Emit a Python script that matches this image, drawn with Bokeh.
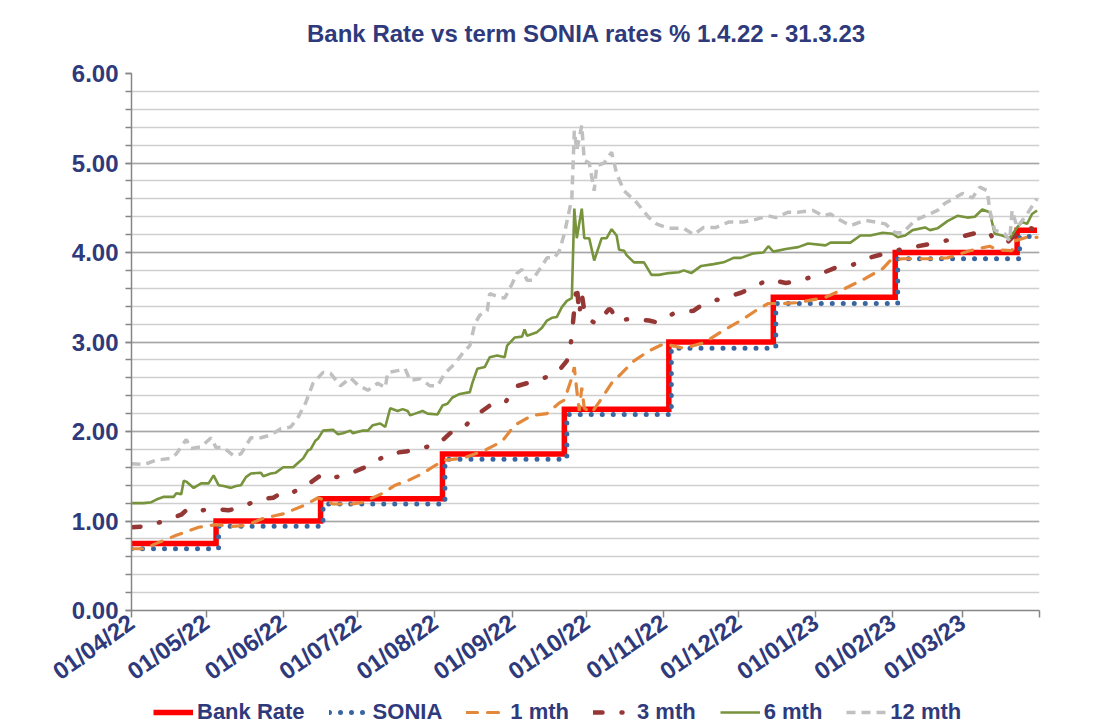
import datetime as dt
from bokeh.plotting import figure
from bokeh.layouts import column
from bokeh.core.properties import value
from bokeh.models import (FixedTicker, DatetimeTickFormatter, NumeralTickFormatter,
                          Legend, LegendItem, Range1d)
from bokeh.embed import file_html
from bokeh.resources import INLINE

# ---------------- data ----------------
bank_dates = ["2022-04-01", "2022-05-05", "2022-06-16", "2022-08-04", "2022-09-22",
              "2022-11-03", "2022-12-15", "2023-02-02", "2023-03-23", "2023-03-31"]
bank_rate = [0.75, 1.00, 1.25, 1.75, 2.25, 3.00, 3.50, 4.00, 4.25, 4.25]

sonia_dates = ["2022-04-01", "2022-05-06", "2022-06-17", "2022-08-05", "2022-09-23",
               "2022-11-04", "2022-12-16", "2023-02-03", "2023-03-24", "2023-03-31"]
sonia = [0.69, 0.94, 1.19, 1.69, 2.19, 2.93, 3.43, 3.93, 4.18, 4.18]

m1_dates = ["2022-04-01", "2022-04-06", "2022-04-11", "2022-04-19", "2022-04-28", "2022-05-05",
            "2022-05-11", "2022-05-17", "2022-05-24", "2022-06-01", "2022-06-09", "2022-06-15",
            "2022-06-21", "2022-06-29", "2022-07-03", "2022-07-11", "2022-07-16", "2022-07-21",
            "2022-07-27", "2022-08-01", "2022-08-05", "2022-08-12", "2022-08-21", "2022-08-28",
            "2022-09-02", "2022-09-09", "2022-09-15", "2022-09-20", "2022-09-22", "2022-09-25",
            "2022-09-26", "2022-09-27", "2022-09-28", "2022-09-29", "2022-09-30", "2022-10-03",
            "2022-10-07", "2022-10-11", "2022-10-15", "2022-10-20", "2022-10-26", "2022-11-01",
            "2022-11-09", "2022-11-17", "2022-11-25", "2022-12-02", "2022-12-09", "2022-12-13",
            "2022-12-19", "2022-12-25", "2023-01-05", "2023-01-13", "2023-01-21", "2023-01-28",
            "2023-01-31", "2023-02-05", "2023-02-11", "2023-02-17", "2023-02-23", "2023-03-04",
            "2023-03-12", "2023-03-15", "2023-03-21", "2023-03-22", "2023-03-27", "2023-03-31"]
m1 = [0.69, 0.69, 0.75, 0.84, 0.93, 0.96, 0.94, 0.95, 1.03, 1.08, 1.17, 1.26,
      1.19, 1.19, 1.21, 1.31, 1.40, 1.45, 1.53, 1.62, 1.68, 1.70, 1.79, 1.89,
      2.07, 2.18, 2.20, 2.32, 2.35, 2.60, 2.72, 2.46, 2.23, 2.49, 2.26, 2.21,
      2.37, 2.54, 2.65, 2.79, 2.90, 2.98, 2.93, 2.99, 3.13, 3.24, 3.37, 3.43,
      3.43, 3.44, 3.50, 3.60, 3.71, 3.82, 3.91, 3.93, 3.93, 3.93, 3.94, 4.02,
      4.07, 4.03, 4.02, 4.13, 4.17, 4.17]

m3_dates = ["2022-04-01", "2022-04-07", "2022-04-14", "2022-04-21", "2022-04-23", "2022-04-25",
            "2022-05-03", "2022-05-10", "2022-05-15", "2022-05-22", "2022-05-28", "2022-05-31",
            "2022-06-02", "2022-06-09", "2022-06-15", "2022-06-16", "2022-06-19", "2022-06-27",
            "2022-07-03", "2022-07-07", "2022-07-13", "2022-07-21", "2022-07-25", "2022-08-02",
            "2022-08-07", "2022-08-12", "2022-08-17", "2022-08-23", "2022-08-29", "2022-09-02",
            "2022-09-07", "2022-09-13", "2022-09-19", "2022-09-23", "2022-09-24", "2022-09-25",
            "2022-09-26", "2022-09-27", "2022-09-28", "2022-09-29", "2022-09-30", "2022-10-01",
            "2022-10-02", "2022-10-05", "2022-10-10", "2022-10-11", "2022-10-13", "2022-10-19",
            "2022-10-26", "2022-10-29", "2022-11-05", "2022-11-13", "2022-11-17", "2022-11-25",
            "2022-12-02", "2022-12-07", "2022-12-13", "2022-12-20", "2022-12-25", "2023-01-02",
            "2023-01-09", "2023-01-15", "2023-01-21", "2023-01-29", "2023-02-02", "2023-02-09",
            "2023-02-17", "2023-02-22", "2023-03-01", "2023-03-08", "2023-03-12", "2023-03-13",
            "2023-03-19", "2023-03-24", "2023-03-28", "2023-03-30"]
m3 = [0.93, 0.94, 1.00, 1.07, 1.12, 1.09, 1.14, 1.12, 1.15, 1.24, 1.26, 1.31,
      1.29, 1.37, 1.49, 1.51, 1.47, 1.52, 1.59, 1.64, 1.75, 1.78, 1.81, 1.85,
      1.98, 2.03, 2.17, 2.29, 2.31, 2.50, 2.54, 2.59, 2.65, 2.79, 2.85, 3.08,
      3.37, 3.65, 3.30, 3.54, 3.35, 3.26, 3.25, 3.20, 3.37, 3.35, 3.24, 3.26,
      3.24, 3.22, 3.32, 3.35, 3.43, 3.49, 3.55, 3.61, 3.70, 3.66, 3.68, 3.75,
      3.83, 3.85, 3.93, 3.99, 4.02, 4.06, 4.10, 4.13, 4.18, 4.23, 4.22, 4.17,
      4.11, 4.25, 4.28, 4.25]

m6_dates = ["2022-04-01", "2022-04-06", "2022-04-09", "2022-04-11", "2022-04-14", "2022-04-18",
            "2022-04-19", "2022-04-21", "2022-04-22", "2022-04-23", "2022-04-26", "2022-04-29",
            "2022-05-02", "2022-05-04", "2022-05-06", "2022-05-08", "2022-05-11", "2022-05-13",
            "2022-05-15", "2022-05-17", "2022-05-19", "2022-05-23", "2022-05-24", "2022-05-27",
            "2022-05-29", "2022-06-01", "2022-06-05", "2022-06-07", "2022-06-09", "2022-06-11",
            "2022-06-12", "2022-06-14", "2022-06-15", "2022-06-17", "2022-06-21", "2022-06-23",
            "2022-06-25", "2022-06-28", "2022-06-29", "2022-07-03", "2022-07-05", "2022-07-07",
            "2022-07-10", "2022-07-12", "2022-07-14", "2022-07-17", "2022-07-19", "2022-07-21",
            "2022-07-22", "2022-07-24", "2022-07-27", "2022-07-29", "2022-08-02", "2022-08-04",
            "2022-08-06", "2022-08-08", "2022-08-11", "2022-08-15", "2022-08-16", "2022-08-18",
            "2022-08-21", "2022-08-23", "2022-08-26", "2022-08-29", "2022-08-30", "2022-09-02",
            "2022-09-05", "2022-09-06", "2022-09-07", "2022-09-11", "2022-09-13", "2022-09-15",
            "2022-09-17", "2022-09-19", "2022-09-21", "2022-09-23", "2022-09-25", "2022-09-26",
            "2022-09-27", "2022-09-29", "2022-09-30", "2022-10-02", "2022-10-04", "2022-10-07",
            "2022-10-09", "2022-10-11", "2022-10-13", "2022-10-14", "2022-10-16", "2022-10-17",
            "2022-10-20", "2022-10-24", "2022-10-27", "2022-10-30", "2022-11-03", "2022-11-07",
            "2022-11-09", "2022-11-12", "2022-11-16", "2022-11-21", "2022-11-25", "2022-11-29",
            "2022-12-02", "2022-12-07", "2022-12-11", "2022-12-13", "2022-12-15", "2022-12-20",
            "2022-12-25", "2022-12-29", "2023-01-05", "2023-01-07", "2023-01-15", "2023-01-19",
            "2023-01-23", "2023-01-28", "2023-02-01", "2023-02-03", "2023-02-06", "2023-02-09",
            "2023-02-14", "2023-02-16", "2023-02-19", "2023-02-23", "2023-02-27", "2023-03-03",
            "2023-03-06", "2023-03-09", "2023-03-12", "2023-03-14", "2023-03-17", "2023-03-20",
            "2023-03-23", "2023-03-25", "2023-03-27", "2023-03-29", "2023-03-31"]
m6 = [1.20, 1.20, 1.21, 1.24, 1.27, 1.27, 1.31, 1.30, 1.45, 1.44, 1.37, 1.42,
      1.42, 1.51, 1.40, 1.39, 1.37, 1.39, 1.40, 1.49, 1.53, 1.54, 1.50, 1.53,
      1.54, 1.60, 1.60, 1.65, 1.70, 1.79, 1.80, 1.90, 1.92, 2.01, 2.02, 1.97,
      1.98, 2.01, 1.98, 2.01, 2.01, 2.07, 2.09, 2.05, 2.26, 2.23, 2.25, 2.23,
      2.18, 2.20, 2.23, 2.20, 2.19, 2.29, 2.31, 2.38, 2.42, 2.44, 2.54, 2.70,
      2.72, 2.83, 2.85, 2.83, 2.96, 3.05, 3.06, 3.14, 3.07, 3.11, 3.16, 3.24,
      3.27, 3.28, 3.39, 3.46, 3.49, 4.49, 4.16, 4.49, 4.16, 4.16, 3.91, 4.16,
      4.16, 4.26, 4.19, 4.03, 4.02, 3.97, 3.89, 3.89, 3.75, 3.75, 3.77, 3.78,
      3.80, 3.77, 3.85, 3.87, 3.89, 3.94, 3.94, 3.99, 4.00, 4.07, 4.01, 4.04,
      4.06, 4.10, 4.08, 4.11, 4.11, 4.19, 4.19, 4.22, 4.21, 4.17, 4.19, 4.25,
      4.28, 4.25, 4.27, 4.35, 4.41, 4.39, 4.40, 4.48, 4.45, 4.21, 4.19, 4.16,
      4.28, 4.34, 4.32, 4.43, 4.47]

m12_dates = ["2022-04-01", "2022-04-06", "2022-04-11", "2022-04-17", "2022-04-19", "2022-04-23",
             "2022-04-25", "2022-04-29", "2022-05-03", "2022-05-05", "2022-05-08", "2022-05-12",
             "2022-05-15", "2022-05-19", "2022-05-23", "2022-05-27", "2022-05-31", "2022-06-04",
             "2022-06-07", "2022-06-10", "2022-06-13", "2022-06-17", "2022-06-20", "2022-06-24",
             "2022-06-28", "2022-07-01", "2022-07-05", "2022-07-09", "2022-07-12", "2022-07-13",
             "2022-07-17", "2022-07-20", "2022-07-22", "2022-07-26", "2022-07-30", "2022-08-02",
             "2022-08-05", "2022-08-09", "2022-08-12", "2022-08-15", "2022-08-17", "2022-08-19",
             "2022-08-22", "2022-08-23", "2022-08-27", "2022-08-29", "2022-09-01", "2022-09-03",
             "2022-09-05", "2022-09-07", "2022-09-09", "2022-09-13", "2022-09-15", "2022-09-18",
             "2022-09-20", "2022-09-22", "2022-09-25", "2022-09-26", "2022-09-27", "2022-09-29",
             "2022-09-30", "2022-10-02", "2022-10-04", "2022-10-05", "2022-10-08", "2022-10-11",
             "2022-10-13", "2022-10-16", "2022-10-21", "2022-10-26", "2022-10-29", "2022-11-03",
             "2022-11-09", "2022-11-13", "2022-11-17", "2022-11-22", "2022-11-27", "2022-12-03",
             "2022-12-08", "2022-12-13", "2022-12-16", "2022-12-21", "2022-12-25", "2022-12-28",
             "2022-12-31", "2023-01-04", "2023-01-07", "2023-01-11", "2023-01-15", "2023-01-21",
             "2023-01-29", "2023-02-02", "2023-02-05", "2023-02-10", "2023-02-14", "2023-02-19",
             "2023-02-22", "2023-02-26", "2023-03-01", "2023-03-05", "2023-03-08", "2023-03-11",
             "2023-03-12", "2023-03-14", "2023-03-18", "2023-03-20", "2023-03-21", "2023-03-23",
             "2023-03-27", "2023-03-31"]
m12 = [1.64, 1.63, 1.68, 1.70, 1.75, 1.91, 1.81, 1.83, 1.93, 1.82, 1.82, 1.73,
       1.75, 1.93, 1.93, 1.96, 2.03, 2.05, 2.16, 2.32, 2.54, 2.66, 2.65, 2.51,
       2.60, 2.52, 2.46, 2.54, 2.49, 2.66, 2.68, 2.70, 2.57, 2.59, 2.51, 2.51,
       2.65, 2.76, 2.87, 2.96, 3.20, 3.30, 3.35, 3.54, 3.50, 3.49, 3.65, 3.77,
       3.81, 3.69, 3.69, 3.85, 3.94, 3.94, 4.02, 4.21, 4.60, 5.36, 5.14, 5.42,
       5.03, 5.00, 4.69, 4.97, 5.00, 5.12, 4.88, 4.69, 4.56, 4.39, 4.32, 4.27,
       4.27, 4.20, 4.28, 4.28, 4.34, 4.34, 4.37, 4.41, 4.39, 4.45, 4.45, 4.46,
       4.47, 4.41, 4.43, 4.36, 4.30, 4.36, 4.32, 4.22, 4.22, 4.36, 4.41, 4.47,
       4.55, 4.61, 4.66, 4.61, 4.73, 4.69, 4.47, 4.25, 4.21, 4.13, 4.47, 4.28,
       4.43, 4.60]

month_ticks = ["2022-04-01", "2022-05-01", "2022-06-01", "2022-07-01", "2022-08-01",
               "2022-09-01", "2022-10-01", "2022-11-01", "2022-12-01", "2023-01-01",
               "2023-02-01", "2023-03-01", "2023-04-01"]
y_major = [0, 1, 2, 3, 4, 5, 6]
y_minor = [round(0.2 * i, 1) for i in range(31)]

TITLE = "Bank Rate vs term SONIA rates % 1.4.22 - 31.3.23"
series_names = ["Bank Rate", "SONIA", "1 mth", "3 mth", "6 mth", "12 mth"]

# ---------------- helpers / styles ----------------
EPOCH = dt.datetime(1970, 1, 1)


def to_dt(lst):
    return [dt.datetime.strptime(s, "%Y-%m-%d") for s in lst]


def to_ms(lst):
    return [(d - EPOCH).total_seconds() * 1000.0 for d in to_dt(lst)]


NAVY = "#2E3A7C"
FONT = "Liberation Sans"
AXIS_GREY = "#868686"
W = 1084
LEFT, RIGHT = 131, 45
FRAME_W, FRAME_H = 908, 537

styles = {
    "Bank Rate": dict(line_color="#FF0000", line_width=5.5, line_join="miter"),
    "SONIA": dict(line_color="#3A66A0", line_width=5, line_dash="0 11", line_cap="round"),
    "1 mth": dict(line_color="#E4893B", line_width=3.2, line_dash="11 10", line_cap="round"),
    "3 mth": dict(line_color="#953735", line_width=4.5, line_dash="9 19 1 19", line_cap="round"),
    "6 mth": dict(line_color="#77933C", line_width=2.6),
    "12 mth": dict(line_color="#C0C0C0", line_width=3.5, line_dash="9 6"),
}
series_data = {
    "Bank Rate": (bank_dates, bank_rate),
    "SONIA": (sonia_dates, sonia),
    "1 mth": (m1_dates, m1),
    "3 mth": (m3_dates, m3),
    "6 mth": (m6_dates, m6),
    "12 mth": (m12_dates, m12),
}

x_range = Range1d(dt.datetime(2022, 4, 1), dt.datetime(2023, 4, 1))


def hide_title(fig):
    fig.title.visible = False
    fig.title.text_font_size = "0px"
    fig.title.standoff = 0


# ---------------- title strip (frame aligned with the main frame) ----------------
pt = figure(width=W, height=60, output_backend="svg", toolbar_location=None,
            x_range=Range1d(0, FRAME_W), y_range=Range1d(60, 0),
            x_axis_location=None, y_axis_location=None,
            min_border_left=LEFT, min_border_right=RIGHT,
            min_border_top=0, min_border_bottom=0)
hide_title(pt)
pt.outline_line_color = None
pt.grid.visible = False
pt.text(x=[586 - LEFT], y=[33], text=[TITLE], text_align="center",
        text_baseline="middle", text_font=value(FONT), text_font_size=value("24px"),
        text_font_style="bold", text_color=NAVY)

# ---------------- main plot ----------------
p = figure(frame_width=FRAME_W, frame_height=FRAME_H, x_axis_type="datetime",
           output_backend="svg", toolbar_location=None,
           x_range=x_range, y_range=Range1d(0, 6),
           min_border_left=LEFT, min_border_right=RIGHT,
           min_border_top=13, min_border_bottom=0)
hide_title(p)
p.outline_line_color = None

p.xgrid.visible = False
p.ygrid.grid_line_color = "#A6A6A6"
p.ygrid.grid_line_width = 1.5
p.ygrid.minor_grid_line_color = "#CFCFCF"
p.ygrid.minor_grid_line_width = 1.5

p.yaxis.ticker = FixedTicker(ticks=y_major, minor_ticks=y_minor)
p.yaxis.formatter = NumeralTickFormatter(format="0.00")
p.yaxis.major_label_text_font = FONT
p.yaxis.major_label_text_font_size = "24px"
p.yaxis.major_label_text_font_style = "bold"
p.yaxis.major_label_text_color = NAVY
p.yaxis.axis_line_color = AXIS_GREY
p.yaxis.axis_line_width = 1.5
p.yaxis.major_tick_line_color = AXIS_GREY
p.yaxis.minor_tick_line_color = AXIS_GREY
p.yaxis.major_tick_line_width = 1.5
p.yaxis.minor_tick_line_width = 1.5
p.yaxis.major_tick_out = 6
p.yaxis.major_tick_in = 0
p.yaxis.minor_tick_out = 6
p.yaxis.minor_tick_in = 0
p.yaxis.major_label_standoff = 7

tick_ms = to_ms(month_ticks)
p.xaxis.ticker = FixedTicker(ticks=tick_ms, minor_ticks=[])
fmt = "%d/%m/%y"
p.xaxis.formatter = DatetimeTickFormatter(
    microseconds=fmt, milliseconds=fmt, seconds=fmt, minsec=fmt, minutes=fmt,
    hourmin=fmt, hours=fmt, days=fmt, months=fmt, years=fmt)
p.xaxis.major_label_overrides = {tick_ms[-1]: ""}
p.xaxis.major_label_orientation = 0.62
p.xaxis.major_label_text_font = FONT
p.xaxis.major_label_text_font_size = "24px"
p.xaxis.major_label_text_font_style = "bold"
p.xaxis.major_label_text_color = NAVY
p.xaxis.axis_line_color = AXIS_GREY
p.xaxis.axis_line_width = 1.5
p.xaxis.major_tick_line_color = AXIS_GREY
p.xaxis.major_tick_line_width = 1.5
p.xaxis.major_tick_out = 7
p.xaxis.major_tick_in = 0
p.xaxis.major_label_standoff = 2

for name in series_names:
    d, v = series_data[name]
    if name in ("Bank Rate", "SONIA"):
        p.step(to_dt(d), v, mode="after", **styles[name])
    else:
        p.line(to_dt(d), v, **styles[name])

# ---------------- legend strip (frame aligned with the main frame) ----------------
pb = figure(width=W, height=30, output_backend="svg", toolbar_location=None,
            x_range=x_range, y_range=Range1d(10, 11),
            x_axis_location=None, y_axis_location=None,
            min_border_left=LEFT, min_border_right=RIGHT,
            min_border_top=0, min_border_bottom=0)
hide_title(pb)
pb.outline_line_color = None
pb.grid.visible = False

leg_items = []
for name in series_names:
    d, v = series_data[name]
    # same series, drawn outside this strip's y range: only the legend glyph shows
    if name in ("Bank Rate", "SONIA"):
        r = pb.step(to_dt(d), v, mode="after", **styles[name])
    else:
        r = pb.line(to_dt(d), v, **styles[name])
    leg_items.append(LegendItem(label=name, renderers=[r]))

legend = Legend(items=leg_items, orientation="horizontal", location=(22, 3),
                label_text_font=FONT, label_text_font_size="22px",
                label_text_font_style="bold", label_text_color=NAVY,
                glyph_width=40, glyph_height=20, label_standoff=4, spacing=24,
                padding=0, margin=0, border_line_color=None, background_fill_alpha=0)
pb.add_layout(legend, "center")

layout = column(pt, p, pb, spacing=0)
open("out.html", "w").write(file_html(layout, INLINE))
